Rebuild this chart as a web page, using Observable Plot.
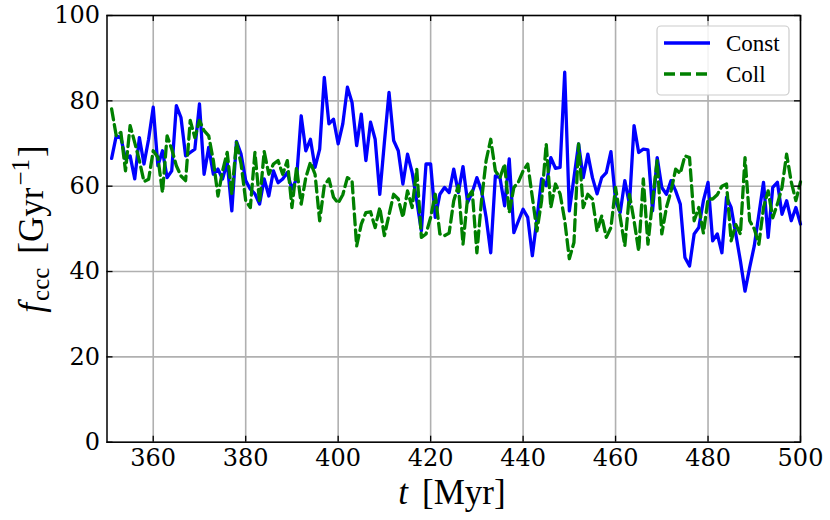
<!DOCTYPE html>
<html>
<head>
<meta charset="utf-8">
<script src="https://cdn.jsdelivr.net/npm/d3@7"></script>
<script src="https://cdn.jsdelivr.net/npm/@observablehq/plot@0.6"></script>
<style>
  html, body { margin: 0; padding: 0; background: #fff; }
  #chart { width: 830px; height: 520px; }
</style>
</head>
<body>
<div id="chart"></div>
<script>
// ---- data ----
const times = d3.range(351, 501); // t [Myr], 1 Myr sampling

const constValues = [
  66.5, 71.8, 71.4, 66.4, 67.1, 61.7, 71.4, 65.2, 71.0, 78.5,
  64.8, 68.3, 62.0, 63.6, 78.9, 76.1, 67.1, 67.9, 68.7, 79.3,
  62.8, 69.1, 62.8, 64.0, 61.7, 65.6, 54.2, 70.5, 67.5, 61.3,
  59.3, 58.2, 55.8, 61.7, 57.7, 63.6, 60.8, 61.7, 63.2, 59.3,
  61.7, 76.5, 68.3, 71.0, 64.4, 68.7, 85.5, 74.6, 75.7, 69.9,
  74.6, 83.2, 79.6, 69.5, 76.9, 66.0, 75.0, 71.0, 58.1, 70.3,
  82.0, 70.7, 68.3, 60.5, 67.5, 63.2, 56.6, 49.5, 65.2, 65.2,
  52.7, 58.1, 59.7, 58.5, 64.0, 58.5, 64.6, 56.2, 58.5, 62.0,
  58.9, 52.7, 44.4, 62.4, 62.0, 55.4, 66.4, 49.1, 51.9, 54.6,
  52.7, 43.7, 52.3, 61.7, 60.1, 66.7, 64.2, 64.4, 86.7, 54.2,
  62.0, 69.9, 62.0, 67.5, 62.0, 58.2, 62.0, 63.2, 68.1, 56.6,
  53.8, 61.3, 55.8, 74.2, 67.9, 68.7, 68.5, 54.2, 66.7, 59.7,
  58.1, 61.3, 58.9, 55.8, 43.3, 41.3, 48.8, 50.3, 56.6, 60.9,
  47.2, 48.8, 44.4, 57.4, 55.0, 48.8, 42.5, 35.4, 40.9, 46.0,
  53.4, 60.9, 48.0, 59.7, 60.9, 53.4, 56.6, 51.9, 55.0, 51.1
];

const collValues = [
  78.1, 71.8, 72.6, 63.6, 74.2, 70.2, 66.0, 61.1, 61.6, 68.3,
  66.8, 58.5, 71.8, 68.7, 64.8, 62.4, 61.3, 75.4, 71.4, 75.4,
  73.0, 71.8, 66.0, 57.7, 63.6, 67.9, 58.1, 70.3, 65.2, 56.6,
  55.0, 67.9, 56.2, 68.1, 62.8, 65.2, 66.0, 62.8, 66.0, 55.0,
  64.4, 55.8, 62.0, 65.6, 62.8, 51.9, 60.1, 61.7, 57.4, 56.0,
  58.0, 62.0, 61.3, 46.0, 51.1, 53.8, 54.0, 50.3, 55.0, 48.4,
  53.3, 58.1, 57.0, 52.7, 58.9, 55.0, 64.0, 48.0, 48.8, 52.7,
  58.1, 48.8, 48.4, 49.0, 56.6, 60.1, 46.4, 57.4, 58.9, 44.4,
  56.6, 66.0, 71.0, 63.6, 62.0, 65.2, 53.8, 59.7, 61.0, 63.6,
  65.2, 57.4, 49.5, 56.6, 69.9, 55.0, 60.5, 58.2, 52.0, 43.0,
  46.8, 69.9, 55.0, 58.1, 57.0, 49.5, 53.0, 48.0, 50.3, 59.7,
  52.7, 46.0, 58.1, 51.9, 44.8, 61.7, 46.4, 56.6, 66.0, 48.8,
  55.0, 58.9, 64.0, 63.0, 67.1, 66.7, 51.9, 55.0, 49.0, 57.0,
  57.0, 58.0, 60.0, 60.5, 47.2, 51.0, 48.8, 66.7, 51.9, 50.0,
  46.4, 55.0, 58.9, 52.6, 55.8, 59.7, 67.5, 61.0, 56.6, 61.0
];

const seriesNames = ["Const", "Coll"];
const xTicks = [360, 380, 400, 420, 440, 460, 480, 500];
const yTicks = [0, 20, 40, 60, 80, 100];
const xDomain = [350, 500];
const yDomain = [0, 100];

// ---- build tables ----
const constData = times.map((t, i) => ({t, v: constValues[i]}));
const collData = times.map((t, i) => ({t, v: collValues[i]}));

// ---- layout ----
const W = 830, H = 520;
const mL = 106.5, mR = 30, mT = 15, mB = 78.3;
const plotW = W - mL - mR, plotH = H - mT - mB;
const tickLen = 6;

const chart = Plot.plot({
  width: W, height: H,
  marginLeft: mL, marginRight: mR, marginTop: mT, marginBottom: mB,
  style: {fontFamily: "'DejaVu Serif', serif", fontSize: "24px", color: "black", background: "white", overflow: "visible"},
  x: {domain: xDomain, ticks: xTicks},
  y: {domain: yDomain, ticks: yTicks},
  marks: [
    Plot.gridX(xTicks, {stroke: "#b0b0b0", strokeOpacity: 1, strokeWidth: 1.6}),
    Plot.gridY(yTicks, {stroke: "#b0b0b0", strokeOpacity: 1, strokeWidth: 1.6}),
    Plot.line(constData, {x: "t", y: "v", stroke: "#0000ff", strokeWidth: 3.3, strokeLinejoin: "round"}),
    Plot.line(collData, {x: "t", y: "v", stroke: "#008000", strokeWidth: 3.3, strokeDasharray: "11,5"}),
    // inward ticks on all four sides
    Plot.tickX(xTicks, {x: d => d, insetTop: plotH - tickLen, stroke: "black", strokeWidth: 1.3}),
    Plot.tickX(xTicks, {x: d => d, insetBottom: plotH - tickLen, stroke: "black", strokeWidth: 1.3}),
    Plot.tickY(yTicks, {y: d => d, insetRight: plotW - tickLen, stroke: "black", strokeWidth: 1.3}),
    Plot.tickY(yTicks, {y: d => d, insetLeft: plotW - tickLen, stroke: "black", strokeWidth: 1.3}),
    Plot.frame({stroke: "black", strokeWidth: 1.5}),
    Plot.axisX(xTicks, {tickSize: 0, tickPadding: 7, label: null, fontSize: 24, fill: "black"}),
    Plot.axisY(yTicks, {tickSize: 0, tickPadding: 7, label: null, fontSize: 24, fill: "black"})
  ]
});

document.getElementById("chart").appendChild(chart);

// ---- axis labels and legend (text with sub/superscripts) ----
const svg = d3.select(chart);
const labelFont = "'Liberation Serif', 'DejaVu Serif', serif";

// x label: t [Myr]
const xl = svg.append("text")
  .attr("x", 452).attr("y", 504)
  .attr("text-anchor", "middle")
  .attr("font-family", labelFont).attr("font-size", 35).attr("fill", "black");
xl.append("tspan").attr("font-style", "italic").text("t");
xl.append("tspan").attr("dx", 14).text("[Myr]");

// y label: f_ccc [Gyr^-1]
const yg = svg.append("g").attr("transform", `translate(43, 229) rotate(-90)`);
const yl = yg.append("text")
  .attr("text-anchor", "middle")
  .attr("font-family", labelFont).attr("font-size", 35).attr("fill", "black");
yl.append("tspan").attr("font-style", "italic").text("f");
yl.append("tspan").attr("font-size", 25).attr("dx", 2).attr("dy", 6).text("ccc");
yl.append("tspan").attr("dx", 14).attr("dy", -6).text("[Gyr");
yl.append("tspan").attr("font-size", 25).attr("dx", 2).attr("dy", -14).text("\u22121");
yl.append("tspan").attr("dx", 2).attr("dy", 14).text("]");

// legend
const lg = svg.append("g");
lg.append("rect")
  .attr("x", 657).attr("y", 26).attr("width", 132).attr("height", 69)
  .attr("rx", 4).attr("fill", "white").attr("fill-opacity", 0.85)
  .attr("stroke", "#cccccc").attr("stroke-width", 1.2);
const legendStyles = [
  {stroke: "#0000ff", dash: null},
  {stroke: "#008000", dash: "11,5"}
];
seriesNames.forEach((name, i) => {
  const cy = 43 + i * 31;
  lg.append("line")
    .attr("x1", 664).attr("x2", 710).attr("y1", cy).attr("y2", cy)
    .attr("stroke", legendStyles[i].stroke).attr("stroke-width", 3.3)
    .attr("stroke-dasharray", legendStyles[i].dash);
  lg.append("text")
    .attr("x", 726).attr("y", cy + 8)
    .attr("text-anchor", "start")
    .attr("font-family", labelFont).attr("font-size", 23).attr("fill", "black")
    .text(name);
});
</script>
</body>
</html>
